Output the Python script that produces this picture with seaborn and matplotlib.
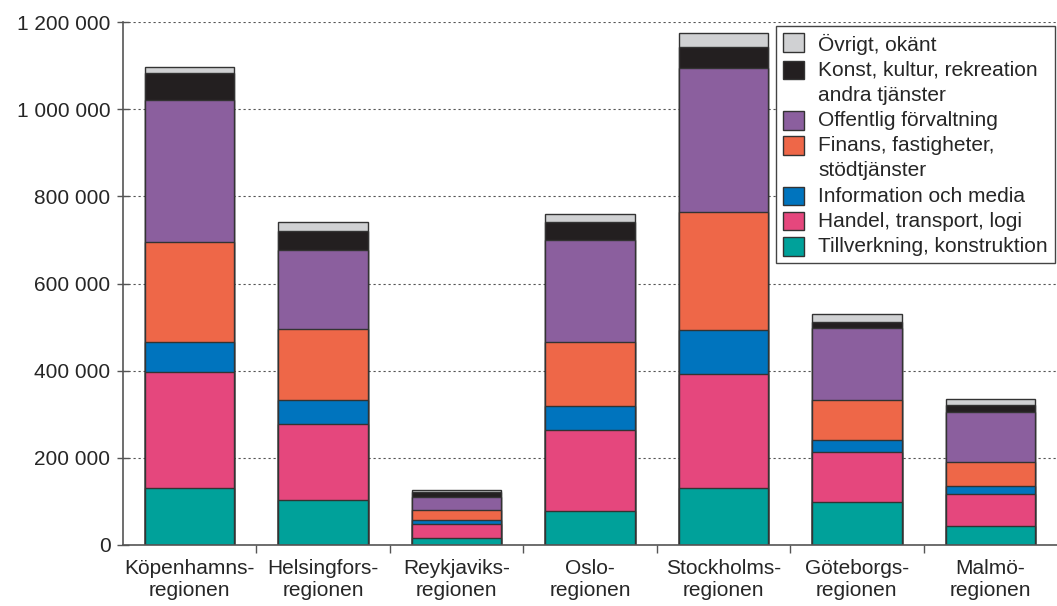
import matplotlib
matplotlib.use("Agg")
import matplotlib.pyplot as plt
import numpy as np
import pandas as pd
import seaborn as sns
from matplotlib.ticker import FuncFormatter, FixedLocator

sns.set_style("white")
plt.rcParams['font.family'] = ['Liberation Sans', 'DejaVu Sans']

# Data (antal sysselsatta per region och bransch)
regions = ["Köpenhamns-\nregionen", "Helsingfors-\nregionen", "Reykjaviks-\nregionen",
           "Oslo-\nregionen", "Stockholms-\nregionen", "Göteborgs-\nregionen", "Malmö-\nregionen"]
tillverkning = [131000, 103000, 16000, 79000, 131000, 98000, 44000]
handel = [266000, 175000, 32000, 185000, 261000, 115000, 72000]
information = [69000, 55000, 9000, 55000, 101000, 28000, 19000]
finans = [230000, 162000, 23000, 146000, 271000, 92000, 55000]
offentlig = [325000, 182000, 31000, 235000, 331000, 164000, 115000]
konst = [63000, 44000, 11000, 42000, 48000, 15000, 16000]
ovrigt = [12000, 21000, 4000, 18000, 32000, 18000, 13000]

series = ["Tillverkning, konstruktion", "Handel, transport, logi", "Information och media",
          "Finans, fastigheter,\nstödtjänster", "Offentlig förvaltning",
          "Konst, kultur, rekreation\nandra tjänster", "Övrigt, okänt"]
colors = ["#00A19A", "#E5477D", "#0074BE", "#EE6748", "#8B5F9E", "#231F20", "#D0D1D3"]

df = pd.DataFrame({"region": regions})
for name, vals in zip(series, [tillverkning, handel, information, finans, offentlig, konst, ovrigt]):
    df[name] = vals
cum = df[series].cumsum(axis=1)

fig = plt.figure(figsize=(10.57, 6.06), dpi=100)
ax = fig.add_axes([123 / 1057, 1 - 545 / 606, 934 / 1057, 523 / 606])

# draw cumulative totals, tallest first, so each layer shows as a stacked segment
for name, col in reversed(list(zip(series, colors))):
    sns.barplot(x=df["region"], y=cum[name], color=col, width=0.67, ax=ax,
                edgecolor="#333333", linewidth=1.0, saturation=1, label=name)

ax.set_ylim(0, 1200000)
ax.set_xlim(-0.5, 6.5)
ax.set_xlabel("")
ax.set_ylabel("")
ax.yaxis.set_major_locator(FixedLocator(np.arange(0, 1200001, 200000)))
ax.yaxis.set_major_formatter(FuncFormatter(lambda v, p: f"{int(v):,}".replace(",", " ")))
ax.grid(axis="y", color="#555555", linestyle=(0, (2, 2.5)), linewidth=0.8)
ax.set_axisbelow(True)

for s in ["top", "right"]:
    ax.spines[s].set_visible(False)
for s in ["left", "bottom"]:
    ax.spines[s].set_color("#555555")
    ax.spines[s].set_linewidth(1.2)

ax.tick_params(axis="y", direction="inout", length=8, width=1, color="#555555",
               labelsize=15, pad=5, left=True)
ax.tick_params(axis="x", which="major", length=0, labelsize=15, pad=10)
ax.set_xticks(np.arange(0.5, 6, 1), minor=True)
ax.tick_params(axis="x", which="minor", direction="out", length=6, width=1, color="#555555", bottom=True)
for t in ax.get_xticklabels():
    t.set_linespacing(1.22)

handles, labels = ax.get_legend_handles_labels()
leg = ax.legend(handles, labels, loc="upper right", bbox_to_anchor=(0.998, 0.992),
                borderaxespad=0, fontsize=15, frameon=True, fancybox=False,
                framealpha=1, edgecolor="#444444", handlelength=1.0, handleheight=1.0,
                handletextpad=0.7, labelspacing=0.3, borderpad=0.35)
leg.get_frame().set_linewidth(1.0)
for t in leg.get_texts():
    t.set_linespacing(1.4)
# put the colour box next to the first line of two-line labels
for col in leg._legend_handle_box.get_children():
    for row in col.get_children():
        row.align = "top"

fig.savefig("out.png", dpi=100)
